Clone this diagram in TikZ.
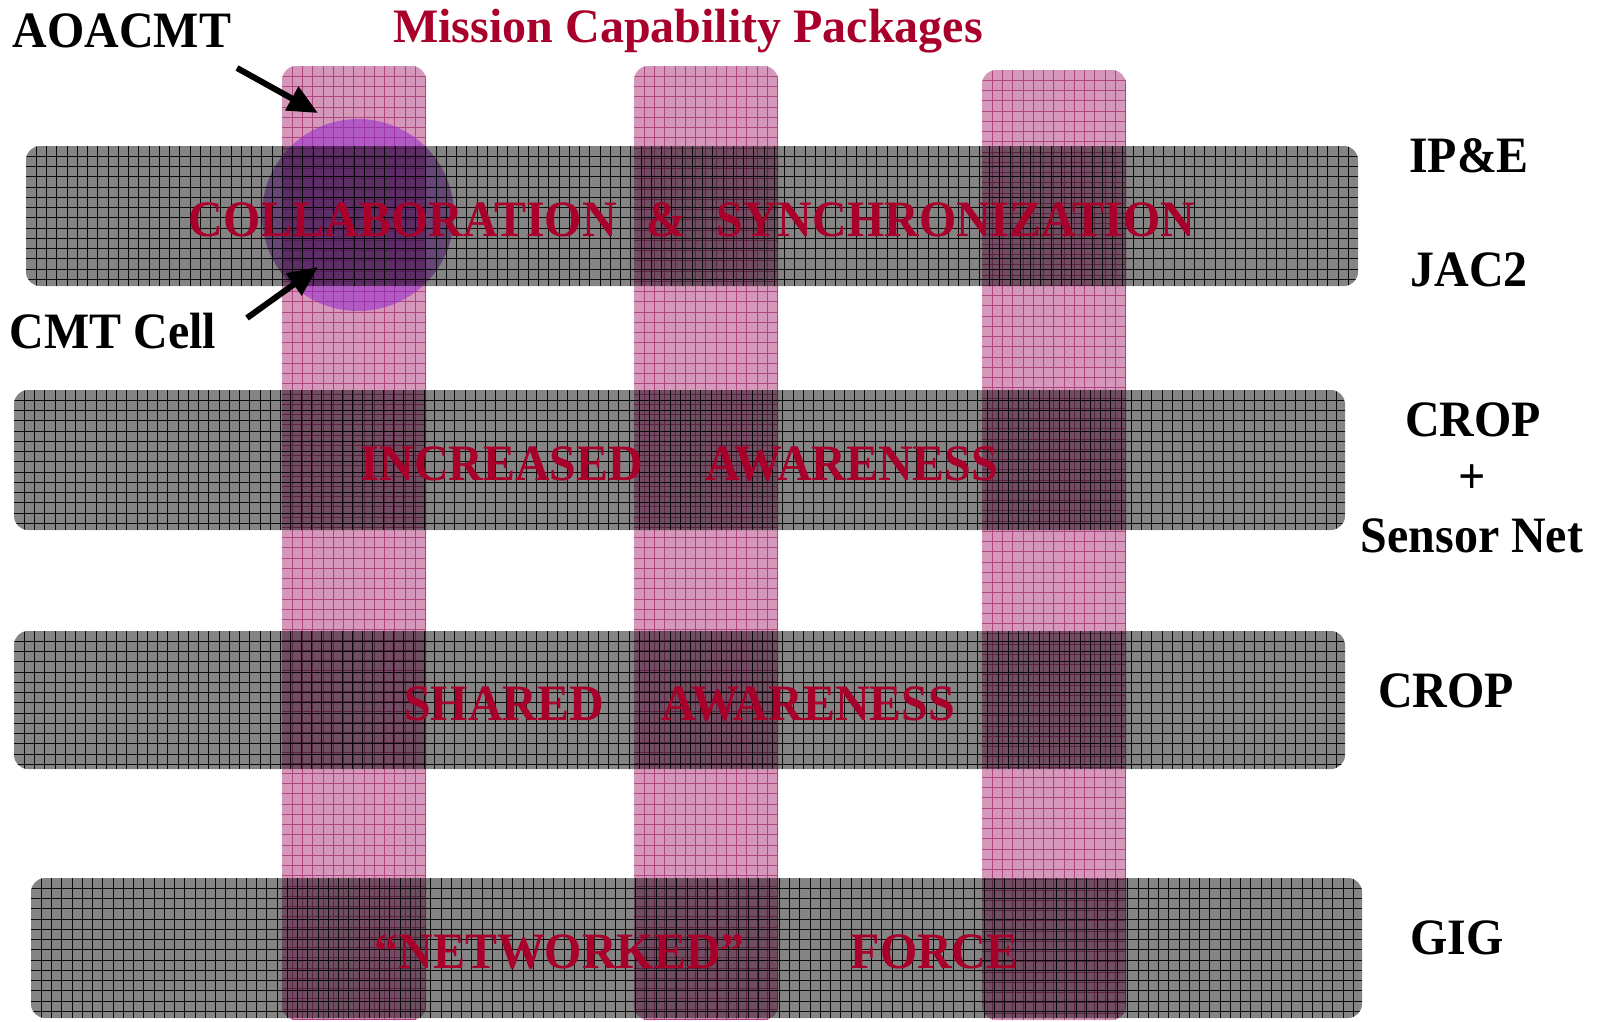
\documentclass[tikz,border=0pt]{standalone}
\usepackage{fontspec}
\setmainfont{Liberation Serif}[FakeStretch=0.94]
\newfontfamily\titlefont{Liberation Serif}
\usetikzlibrary{arrows.meta,positioning}
\definecolor{pinkfill}{RGB}{214,152,186}
\definecolor{pinkink}{RGB}{176,70,128}
\definecolor{bandgrey}{RGB}{132,132,132}
\definecolor{gridink}{RGB}{20,20,20}
\definecolor{capred}{RGB}{168,0,42}
\definecolor{cellviolet}{RGB}{150,40,205}
\tikzset{
  band/.style    ={rounded corners=14pt,fill=bandgrey,inner sep=0pt,outer sep=0pt,
                   path picture={
                     \foreach \k in {1,...,135}
                       \draw[gridink,line width=0.75pt]
                         ([xshift=\k*10.25pt]path picture bounding box.north west) --
                         ([xshift=\k*10.25pt]path picture bounding box.south west);
                     \foreach \k in {1,...,14}
                       \draw[gridink,line width=0.75pt]
                         ([yshift=-\k*10.25pt]path picture bounding box.north west) --
                         ([yshift=-\k*10.25pt]path picture bounding box.north east);}},
  column/.style  ={rounded corners=14pt,fill=pinkfill,inner sep=0pt,outer sep=0pt,
                   minimum width=144pt,
                   path picture={
                     \foreach \k in {1,...,14}
                       \draw[pinkink,line width=0.7pt]
                         ([xshift=\k*10.25pt]path picture bounding box.north west) --
                         ([xshift=\k*10.25pt]path picture bounding box.south west);
                     \foreach \k in {1,...,94}
                       \draw[pinkink,line width=0.7pt]
                         ([yshift=-\k*10.25pt]path picture bounding box.north west) --
                         ([yshift=-\k*10.25pt]path picture bounding box.north east);}},
  cell/.style    ={circle,fill=cellviolet,fill opacity=0.55,minimum size=192pt,
                   inner sep=0pt},
  bandtext/.style={text=capred,font=\fontsize{51}{60}\selectfont\bfseries,inner sep=0pt,
                   text height=41pt,text depth=0pt},
  sidetag/.style ={font=\fontsize{51}{60}\selectfont\bfseries,inner sep=0pt,anchor=base},
  titletag/.style={text=capred,font=\titlefont\fontsize{48}{56}\selectfont\bfseries,
                   inner sep=0pt,anchor=base},
  pointer/.style ={-{Triangle[length=30pt,width=26pt]},line width=6pt}
}
\begin{document}
\begin{tikzpicture}[x=1pt,y=-1pt]
  \useasboundingbox (0,0) rectangle (1603,1021);
  % mission capability packages
  \node[column,minimum height=954pt] (mcp1) at (354,543) {};
  \node[column,minimum height=954pt] (mcp2) at (706,543) {};
  \node[column,minimum height=950pt] (mcp3) at (1054,545) {};
  \node[cell] (cmt) at (358,215) {};
  % layers
  \begin{scope}[blend mode=multiply]
    \node[band,minimum width=1332pt,minimum height=140pt] (band1) at (692,216) {};
    \node[band,minimum width=1331pt,minimum height=140pt] (band2) at (679.5,460) {};
    \node[band,minimum width=1331pt,minimum height=138pt] (band3) at (679.5,700) {};
    \node[band,minimum width=1331pt,minimum height=140pt] (band4) at (696.5,948) {};
  \end{scope}
  \node[bandtext] (collab) at (band1) {COLLABORATION\hspace{30pt}\&\hspace{30pt}SYNCHRONIZATION};
  \node[bandtext] (incaw) at (band2) {INCREASED\hspace{62pt}AWARENESS};
  \node[bandtext] (shaw) at (band3) {SHARED\hspace{58pt}AWARENESS};
  \node[bandtext] (netfo) at (band4) {“NETWORKED”\hspace{106pt}FORCE};
  % labels
  \node[titletag] (title) at (688,42) {Mission Capability Packages};
  \node[sidetag] (aoacmt) at (122,47) {AOACMT};
  \node[sidetag] (cmtcell) at (113,348) {CMT Cell};
  \node[sidetag] (ipe) at (1469,172) {IP\&E};
  \node[sidetag] (jac) at (1469,286) {JAC2};
  \node[sidetag] (crop) at (1473,436) {CROP};
  \node[sidetag] (plus) at (1472,493) {+};
  \node[sidetag] (sensor) at (1472,552) {Sensor Net};
  \node[sidetag] (crop2) at (1446,707) {CROP};
  \node[sidetag] (gig) at (1457,954) {GIG};
  % pointers
  \coordinate (aoaTail) at (237,68);
  \coordinate (aoaTip) at (318,113);
  \coordinate (cellTail) at (247,318);
  \coordinate (cellTip) at (318,267);
  \draw[pointer] (aoaTail) -- (aoaTip);
  \draw[pointer] (cellTail) -- (cellTip);
\end{tikzpicture}
\end{document}
